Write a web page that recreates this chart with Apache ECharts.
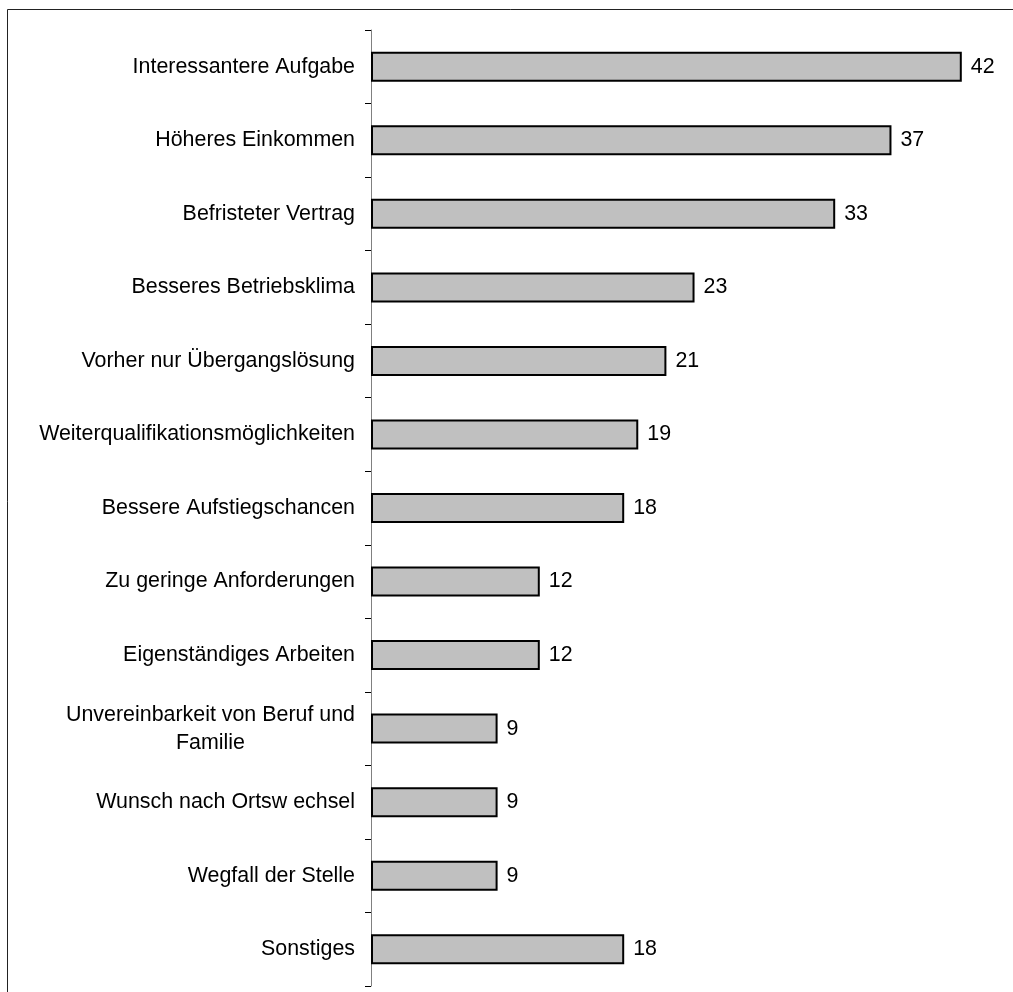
<!DOCTYPE html>
<html>
<head>
<meta charset="utf-8">
<script src="https://cdn.jsdelivr.net/npm/echarts@6/dist/echarts.min.js"></script>
<style>
html,body{margin:0;padding:0;background:#fff;}
#chart{width:1013px;height:992px;}
</style>
</head>
<body>
<div id="chart"></div>
<script>
var categories = [
  "Interessantere Aufgabe",
  "Höheres Einkommen",
  "Befristeter Vertrag",
  "Besseres Betriebsklima",
  "Vorher nur Übergangslösung",
  "Weiterqualifikationsmöglichkeiten",
  "Bessere Aufstiegschancen",
  "Zu geringe Anforderungen",
  "Eigenständiges Arbeiten",
  "Unvereinbarkeit von Beruf und Familie",
  "Wunsch nach Ortsw echsel",
  "Wegfall der Stelle",
  "Sonstiges"
];
var values = [42, 37, 33, 23, 21, 19, 18, 12, 12, 9, 9, 9, 18];

var FONT = '"Liberation Sans", Arial, sans-serif';
var FS = 21.4;

var cv = document.createElement('canvas').getContext('2d');
cv.font = FS + 'px ' + FONT;
var wrapW = Math.ceil(cv.measureText('Unvereinbarkeit von Beruf und').width);

var chart = echarts.init(document.getElementById('chart'), null, {renderer: 'canvas'});

function wrapLabel(v) {
  if (v === "Unvereinbarkeit von Beruf und Familie") {
    return '{c|Unvereinbarkeit von Beruf und}\n{c|Familie}';
  }
  return v;
}

var option = {
  backgroundColor: '#ffffff',
  animation: false,
  grid: {left: 371, top: 30, width: 633, height: 956, containLabel: false},
  xAxis: {
    type: 'value', min: 0, max: 45,
    show: false
  },
  yAxis: {
    type: 'category',
    inverse: true,
    data: categories,
    axisLine: {show: true, lineStyle: {color: '#808080', width: 1}},
    axisTick: {show: true, length: 6, lineStyle: {color: '#000000', width: 1}},
    axisLabel: {
      margin: 16,
      fontSize: FS,
      fontFamily: FONT,
      color: '#000000',
      lineHeight: 28,
      formatter: wrapLabel,
      rich: {
        c: {width: wrapW, align: 'center', fontSize: FS, fontFamily: FONT, color: '#000000', lineHeight: 28}
      }
    },
    splitLine: {show: false}
  },
  series: [{
    type: 'bar',
    data: values,
    barWidth: 30,
    itemStyle: {color: '#C0C0C0', borderColor: '#000000', borderWidth: 2},
    label: {
      show: true,
      position: 'right',
      distance: 9,
      fontSize: FS,
      fontFamily: FONT,
      color: '#000000'
    }
  }],
  graphic: [{
    type: 'rect',
    shape: {x: 7.5, y: 9.5, width: 1100, height: 1100},
    style: {fill: null, stroke: '#222222', lineWidth: 1},
    silent: true
  }]
};
chart.setOption(option);
</script>
</body>
</html>
